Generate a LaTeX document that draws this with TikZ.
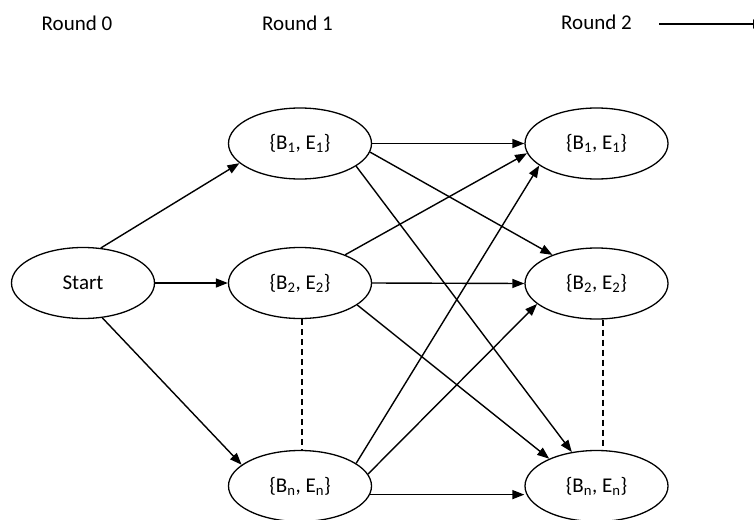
\documentclass[tikz,border=0pt]{standalone}
\usepackage{fontspec}
\setmainfont{Carlito}
\usetikzlibrary{shapes.geometric,arrows.meta}
\begin{document}
\begin{tikzpicture}[x=1pt,y=-1pt,
  state/.style={ellipse,draw,line width=1.3pt,minimum width=143pt,minimum height=71pt,inner sep=0pt,font=\fontsize{21}{24}\selectfont},
  lbl/.style={font=\fontsize{21}{24}\selectfont,inner sep=0pt},
  arr/.style={line width=1.4pt,-{Triangle[length=12pt,width=9pt]}},
  dashline/.style={line width=1.2pt,dash pattern=on 6pt off 4pt}]
\clip (0,0) rectangle (754,519);
\fill[white] (0,0) rectangle (754,519);
\node[lbl] (r0) at (77,23) {Round 0};
\node[lbl] (r1) at (297.5,23) {Round 1};
\node[lbl] (r2) at (596.5,22.5) {Round 2};
\coordinate (tl) at (659,24);
\coordinate (tr) at (765,24);
\draw[arr] (tl) -- (tr);
\node[state] (start) at (83,283) {Start};
\node[state] (a1) at (300,143.5) {\{B\textsubscript{1}, E\textsubscript{1}\}};
\node[state] (a2) at (300,283) {\{B\textsubscript{2}, E\textsubscript{2}\}};
\node[state] (an) at (300,486) {\{B\textsubscript{n}, E\textsubscript{n}\}};
\node[state] (b1) at (596.5,143.5) {\{B\textsubscript{1}, E\textsubscript{1}\}};
\node[state] (b2) at (596.5,283.5) {\{B\textsubscript{2}, E\textsubscript{2}\}};
\node[state] (bn) at (596.5,486) {\{B\textsubscript{n}, E\textsubscript{n}\}};
% round 0 -> round 1
\draw[arr] (start.63.4) -- (a1.198.8);
\draw[arr] (start.east) -- (a2.west);
\draw[arr] (start.-61.5) -- (an.160.7);
% round 1 -> round 2
\draw[arr] (a1.east) -- (b1.west);
\draw[arr] (a1.-7.8) -- (b2.147.4);
\draw[arr] (a1.-22.4) -- (bn.126.1);
\draw[arr] (a2.32.5) -- (b1.188.9);
\draw[arr] (a2.east) -- (b2.west);
\draw[arr] (a2.-21.1) -- (bn.150.8);
\draw[arr] (an.22.3) -- (b1.201.4);
\draw[arr] (an.10.8) -- (b2.199.9);
\draw[arr] (an.-7.2) -- (an.-7.2 -| bn.west);
% dashed continuation
\draw[dashline] ([xshift=2pt]a2.south) -- ([xshift=2pt]an.north);
\draw[dashline] ([xshift=6.5pt]b2.south) -- ([xshift=6.5pt]bn.north);
\end{tikzpicture}
\end{document}
